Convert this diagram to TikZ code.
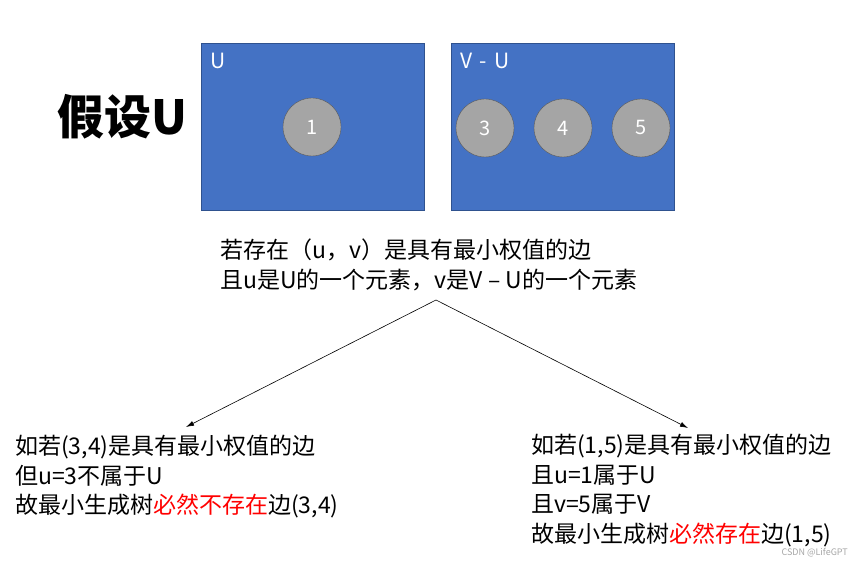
\documentclass[tikz,border=0pt]{standalone}
\usepackage{xcolor}
\usepackage{fontspec}
\setmainfont{Noto Sans CJK SC}
\usetikzlibrary{arrows.meta}
\definecolor{setblue}{HTML}{4472C4}
\definecolor{setedge}{HTML}{2F528F}
\definecolor{vgray}{HTML}{A5A5A5}

\begin{document}
\begin{tikzpicture}[x=1pt,y=-1pt,
  setbox/.style={rectangle,draw=setedge,fill=setblue,minimum width=223pt,minimum height=167pt,inner sep=0pt},
  vertex/.style={circle,draw=black!65,fill=vgray,minimum size=58pt,inner sep=0pt,text=white,font=\fontsize{20}{24}\selectfont},
  setname/.style={anchor=north west,inner sep=0pt,text=white,font=\fontsize{21}{24}\selectfont},
  note/.style={anchor=north west,inner sep=0pt,align=left,font=\fontsize{23}{29.5}\selectfont},
  edgearrow/.style={-{Latex[length=8pt,width=5pt]},line width=0.6pt}]
\useasboundingbox (0,0) rectangle (861,561);
\node[anchor=center,inner sep=0pt,font=\fontsize{47}{50}\selectfont\bfseries] at(122,117)(title){假设U};
\node[setbox] at(312.5,126.5)(U){};
\node[setbox] at(562.5,126.5)(VU){};
\node[setname] at(210,53)(Ulabel){U};
\node[setname] at(460,53)(VUlabel){V\hspace{0.35em}-\hspace{0.35em}U};
\node[vertex] at(312,127)(v1){1};
\node[vertex] at(485,128)(v3){3};
\node[vertex] at(563,128)(v4){4};
\node[vertex] at(641,128)(v5){5};
\node[note] at(220,239)(cond){若存在（u，v）是具有最小权值的边\\且u是U的一个元素，v是V – U的一个元素};
\coordinate (apex) at(436,300);
\coordinate (lend) at(186,427);
\coordinate (rend) at(688,428);
\draw[edgearrow] (apex) -- (lend);
\draw[edgearrow] (apex) -- (rend);
\node[note] at(15,435)(left){如若(3,4)是具有最小权值的边\\但u=3不属于U\\故最小生成树{\color{red}必然不存在}边(3,4)};
\node[note] at(531,434)(right){如若(1,5)是具有最小权值的边\\且u=1属于U\\且v=5属于V\\故最小生成树{\color{red}必然存在}边(1,5)};
\node[anchor=east,inner sep=0pt,text=black!35,font=\fontsize{9}{10}\selectfont] at(848,553)(mark){CSDN @LifeGPT};
\end{tikzpicture}
\end{document}
